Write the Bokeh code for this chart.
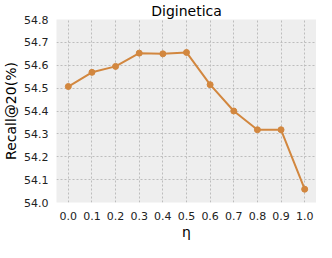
from bokeh.plotting import figure
from bokeh.models import Range1d, FixedTicker, CustomJSTickFormatter
from bokeh.embed import file_html
from bokeh.resources import INLINE

eta = [0.0, 0.1, 0.2, 0.3, 0.4, 0.5, 0.6, 0.7, 0.8, 0.9, 1.0]
recall = [54.507, 54.569, 54.595, 54.653, 54.650, 54.656, 54.515, 54.400, 54.318, 54.318, 54.058]
x_ticks = [0.0, 0.1, 0.2, 0.3, 0.4, 0.5, 0.6, 0.7, 0.8, 0.9, 1.0]
y_ticks = [54.0, 54.1, 54.2, 54.3, 54.4, 54.5, 54.6, 54.7, 54.8]

color = "#D2873F"
font = "DejaVu Sans"

p = figure(width=316, height=242, output_backend="svg", toolbar_location=None,
           title="Diginetica",
           x_range=Range1d(-0.05, 1.05), y_range=Range1d(54.0, 54.8),
           min_border_left=0, min_border_right=0, min_border_top=0, min_border_bottom=0)

p.title.align = "center"
p.title.text_font = font
p.title.text_font_size = "14px"
p.title.text_font_style = "normal"
p.title.text_color = "black"
p.title.offset = 0
p.title.standoff = 1

p.background_fill_color = "#EEEEEE"
p.border_fill_color = "white"
p.outline_line_color = None

for g in (p.xgrid, p.ygrid):
    g.grid_line_color = "#BDBDBD"
    g.grid_line_dash = "2 2"
    g.grid_line_width = 1

p.xaxis.ticker = FixedTicker(ticks=x_ticks)
p.yaxis.ticker = FixedTicker(ticks=y_ticks)
p.xaxis.formatter = CustomJSTickFormatter(code="return tick.toFixed(1);")
p.yaxis.formatter = CustomJSTickFormatter(code="return tick.toFixed(1);")

for ax in (p.xaxis, p.yaxis):
    ax.axis_line_color = None
    ax.major_tick_line_color = None
    ax.minor_tick_line_color = None
    ax.major_label_text_font = font
    ax.major_label_text_font_size = "11px"
    ax.major_label_text_color = "#222222"
    ax.axis_label_text_font = font
    ax.axis_label_text_font_size = "14px"
    ax.axis_label_text_font_style = "normal"
    ax.axis_label_text_color = "black"

p.xaxis.axis_label = "η"
p.yaxis.axis_label = "Recall@20(%)"
p.xaxis.major_label_standoff = 3
p.yaxis.major_label_standoff = 2
p.xaxis.axis_label_standoff = 1
p.yaxis.axis_label_standoff = 2

p.line(eta, recall, line_color=color, line_width=2)
p.scatter(eta, recall, size=6, fill_color=color, line_color=color)

open("out.html", "w").write(file_html(p, INLINE))
